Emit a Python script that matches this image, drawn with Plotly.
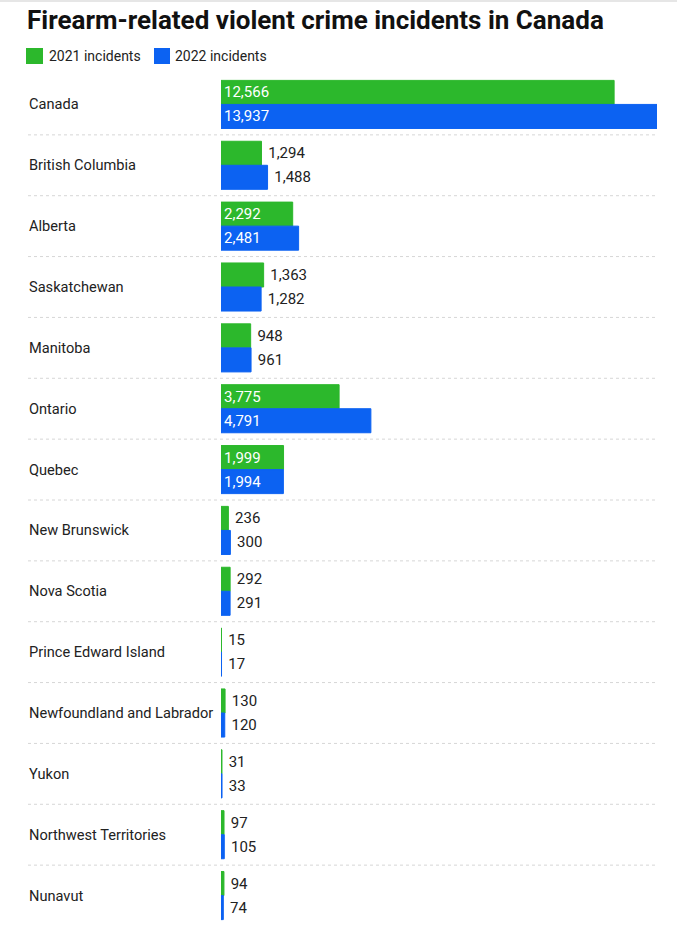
import plotly.graph_objects as go

regions = ["Canada", "British Columbia", "Alberta", "Saskatchewan", "Manitoba", "Ontario",
           "Quebec", "New Brunswick", "Nova Scotia", "Prince Edward Island",
           "Newfoundland and Labrador", "Yukon", "Northwest Territories", "Nunavut"]
incidents_2021 = [12566, 1294, 2292, 1363, 948, 3775, 1999, 236, 292, 15, 130, 31, 97, 94]
incidents_2022 = [13937, 1488, 2481, 1282, 961, 4791, 1994, 300, 291, 17, 120, 33, 105, 74]
series_names = ["2021 incidents", "2022 incidents"]
colors = ["#2cb82c", "#0c62f2"]

W, H = 677, 926
ML, MR, MT, MB = 28, 20, 74, 0
plot_w = W - ML - MR
plot_h = H - MT - MB
bar_start_px = 221
x_dom0 = (bar_start_px - ML) / plot_w


def px_x(p):
    return (p - ML) / plot_w


def px_y(p):
    return (H - MB - p) / plot_h


fig = go.Figure()
for name, vals, col in zip(series_names, [incidents_2021, incidents_2022], colors):
    pos = ["inside" if v >= 1900 else "outside" for v in vals]
    txt = [f"{v:,}" if p == "inside" else "\u00a0" + f"{v:,}" for v, p in zip(vals, pos)]
    fig.add_trace(go.Bar(
        y=regions, x=vals, name=name, orientation="h",
        marker=dict(color=col, line=dict(color=col, width=1)),
        text=txt, textposition=pos,
        insidetextanchor="start",
        insidetextfont=dict(color="white", size=15, family="Roboto"),
        outsidetextfont=dict(color="#222222", size=15, family="Roboto"),
        cliponaxis=False, showlegend=False, hoverinfo="skip",
    ))

shapes = []
for i in range(len(regions) - 1):
    shapes.append(dict(type="line", xref="paper", yref="y",
                       x0=0, x1=1, y0=i + 0.5, y1=i + 0.5,
                       line=dict(color="#d6d6d6", width=1, dash="dot")))
# top thin border
shapes.append(dict(type="rect", xref="paper", yref="paper",
                   x0=px_x(0), x1=px_x(W), y0=px_y(2), y1=px_y(0),
                   fillcolor="#e6e6e6", line=dict(width=0), layer="below"))

annotations = []
for r in regions:
    annotations.append(dict(text=r, xref="paper", yref="y", x=px_x(26.5), y=r,
                            xanchor="left", yanchor="middle", showarrow=False,
                            font=dict(size=14.6, color="#222222", family="Roboto")))

annotations.append(dict(text="<b>Firearm-related violent crime incidents in Canada</b>",
                        xref="paper", yref="paper", x=px_x(28) - 0.004, y=px_y(20),
                        xanchor="left", yanchor="middle", showarrow=False,
                        font=dict(size=26, color="#111111", family="Roboto")))

# manual legend
legend_sq = [(26, 43), (154, 170)]
legend_txt_x = [47, 173]
for (x0, x1), tx, name, col in zip(legend_sq, legend_txt_x, series_names, colors):
    shapes.append(dict(type="rect", xref="paper", yref="paper",
                       x0=px_x(x0), x1=px_x(x1), y0=px_y(64), y1=px_y(48),
                       fillcolor=col, line=dict(width=0)))
    annotations.append(dict(text=name, xref="paper", yref="paper",
                            x=px_x(tx), y=px_y(56), xanchor="left", yanchor="middle",
                            showarrow=False,
                            font=dict(size=14, color="#222222", family="Roboto")))

fig.update_layout(
    width=W, height=H,
    margin=dict(l=ML, r=MR, t=MT, b=MB),
    paper_bgcolor="white", plot_bgcolor="white",
    barmode="group", bargap=0.21, bargroupgap=0,
    showlegend=False,
    hovermode=False,
    xaxis=dict(domain=[x_dom0, 1], range=[0, max(incidents_2022)], visible=False,
               showgrid=False, zeroline=False, fixedrange=True),
    yaxis=dict(autorange="reversed", showticklabels=False, showgrid=False,
               zeroline=False, showline=False, ticks="", fixedrange=True),
    shapes=shapes,
    annotations=annotations,
)

fig.write_html("out.html", config={"displayModeBar": False},
               post_script="document.body.style.margin='0';document.body.style.padding='0';")
